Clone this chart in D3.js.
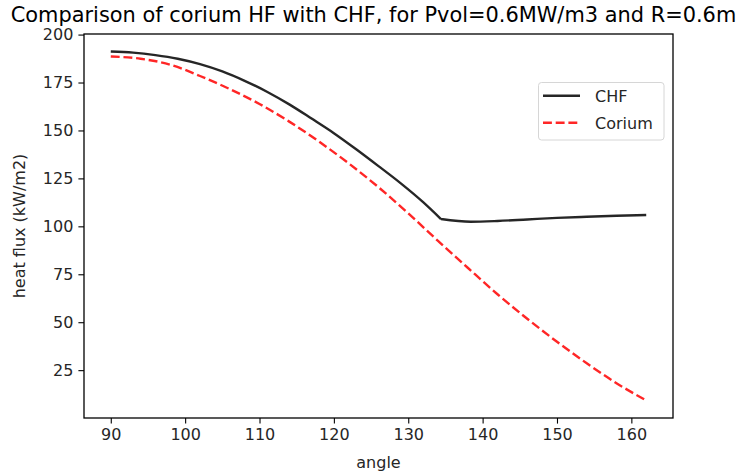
<!DOCTYPE html>
<html>
<head>
<meta charset="utf-8">
<script src="https://cdn.jsdelivr.net/npm/d3@7"></script>
<style>
  html, body { margin: 0; padding: 0; background: #fff; }
  svg { display: block; font-family: "DejaVu Sans", sans-serif; }
</style>
</head>
<body>
<div id="chart"></div>
<script>
// ---- data ----
const chfAngle = [90, 93, 96, 99, 102, 105, 108, 111, 114, 117, 120, 123, 126, 129, 132, 134.4, 138.4, 142, 146, 150, 154, 158, 162];
const chfValue = [191.2, 190.6, 189.3, 187.4, 184.6, 180.8, 175.9, 170.2, 163.6, 156.2, 148.6, 140.2, 131.4, 122.4, 112.6, 103.8, 102.4, 102.8, 103.6, 104.4, 105.0, 105.5, 105.9];
const coriumAngle = [90, 94, 98, 102, 106, 110, 114, 118, 122, 126, 130, 134, 138, 142, 146, 150, 154, 158, 162];
const coriumValue = [188.6, 187.4, 184.3, 178.4, 171.6, 163.8, 154.6, 144.2, 132.8, 120.4, 106.8, 92.4, 78.4, 64.6, 51.8, 39.8, 28.6, 18.2, 9.2];
const xTicks = [90, 100, 110, 120, 130, 140, 150, 160];
const yTicks = [25, 50, 75, 100, 125, 150, 175, 200];
const seriesNames = ["CHF", "Corium"];
const titleText = "Comparison of corium HF with CHF, for Pvol=0.6MW/m3 and R=0.6m";
const xLabel = "angle";
const yLabel = "heat flux (kW/m2)";

(function () {
// ---- layout ----
const W = 747, H = 475;
const mLeft = 84, mRight = 673, mTop = 34, mBottom = 418;

const svg = d3.select("#chart").append("svg").attr("width", W).attr("height", H);

const x = d3.scaleLinear().domain([86.4, 165.6]).range([mLeft, mRight]);
const y = d3.scaleLinear().domain([0.05, 200.3]).range([mBottom, mTop]);

// axes
const xAxis = d3.axisBottom(x).tickValues(xTicks).tickSize(5.6).tickPadding(5).tickFormat(d3.format("d"));
const yAxis = d3.axisLeft(y).tickValues(yTicks).tickSize(5.6).tickPadding(5).tickFormat(d3.format("d"));

const gx = svg.append("g").attr("transform", `translate(0,${mBottom})`).call(xAxis);
const gy = svg.append("g").attr("transform", `translate(${mLeft},0)`).call(yAxis);
[gx, gy].forEach(g => {
  g.select(".domain").remove();
  g.selectAll(".tick line").attr("stroke", "#000").attr("stroke-width", 1.1);
  g.selectAll(".tick text").attr("fill", "#262626").style("font-size", "16px").style("font-family", "DejaVu Sans");
});

// lines
const chfData = chfAngle.map((a, i) => [a, chfValue[i]]);
const corData = coriumAngle.map((a, i) => [a, coriumValue[i]]);

const lineSmooth = d3.line().x(d => x(d[0])).y(d => y(d[1])).curve(d3.curveMonotoneX);

// CHF has a sharp kink at its local change of regime: draw the two smooth parts separately
const kinkIdx = chfAngle.indexOf(134.4);
const chfParts = [chfData.slice(0, kinkIdx + 1), chfData.slice(kinkIdx)];
const chfPath = chfParts.map(p => lineSmooth(p)).join("");
svg.append("path").attr("d", chfPath)
  .attr("fill", "none").attr("stroke", "#000").attr("stroke-opacity", 0.85)
  .attr("stroke-width", 2.4).attr("stroke-linejoin", "round");
svg.append("path").datum(corData).attr("d", lineSmooth)
  .attr("fill", "none").attr("stroke", "#ff0000").attr("stroke-opacity", 0.85)
  .attr("stroke-width", 2.4).attr("stroke-dasharray", "8.9,3.8");

// frame
svg.append("rect").attr("x", mLeft).attr("y", mTop).attr("width", mRight - mLeft).attr("height", mBottom - mTop)
  .attr("fill", "none").attr("stroke", "#000").attr("stroke-width", 1.3);

// title & labels
svg.append("text").attr("x", (mLeft + mRight) / 2 - 5).attr("y", 22).attr("text-anchor", "middle")
  .style("font-size", "20.9px").attr("fill", "#000").text(titleText);
svg.append("text").attr("x", (mLeft + mRight) / 2).attr("y", 468).attr("text-anchor", "middle")
  .style("font-size", "16px").attr("fill", "#262626").text(xLabel);
svg.append("text").attr("transform", `translate(25,${(mTop + mBottom) / 2}) rotate(-90)`).attr("text-anchor", "middle")
  .style("font-size", "16px").attr("fill", "#262626").text(yLabel);

// legend
const lg = svg.append("g");
lg.append("rect").attr("x", 538.5).attr("y", 82.5).attr("width", 125.5).attr("height", 57.5)
  .attr("rx", 3).attr("fill", "#fff").attr("fill-opacity", 0.8).attr("stroke", "#d6d6d6").attr("stroke-width", 1);
const legendStyles = [
  { color: "#000", dash: null },
  { color: "#ff0000", dash: "8.9,3.8" }
];
seriesNames.forEach((name, i) => {
  const yy = 95.7 + i * 27;
  lg.append("line").attr("x1", 543).attr("x2", 580).attr("y1", yy).attr("y2", yy)
    .attr("stroke", legendStyles[i].color).attr("stroke-opacity", 0.85).attr("stroke-width", 2.4)
    .attr("stroke-dasharray", legendStyles[i].dash);
  lg.append("text").attr("x", 595).attr("y", yy + 6).style("font-size", "16px").attr("fill", "#262626").text(name);
});
})();
</script>
</body>
</html>
